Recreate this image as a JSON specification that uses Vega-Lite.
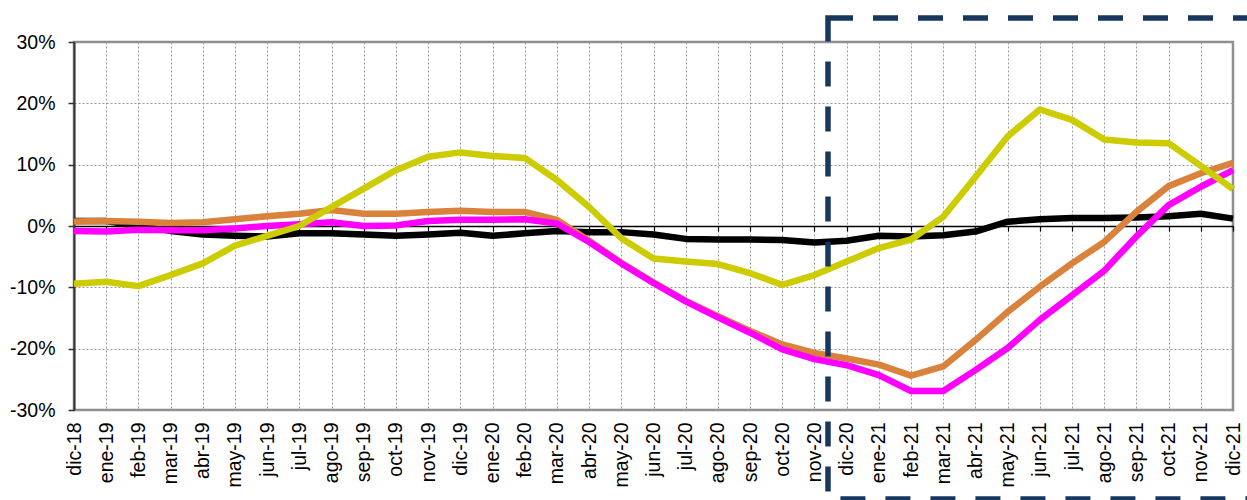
{
  "$schema": "https://vega.github.io/schema/vega-lite/v6.json",
  "autosize": "none",
  "width": 1159,
  "height": 368,
  "padding": {"left": 74, "top": 42, "right": 14, "bottom": 90},
  "background": "white",
  "config": {
    "view": {"stroke": "#8c8c8c", "strokeWidth": 2.5},
    "axis": {"labelFont": "Liberation Sans", "labelFontSize": 19.5, "labelColor": "#000000"}
  },
  "resolve": {"axis": {"x": "independent", "y": "independent"}},
  "layer": [
    {
      "data": {"values": [
        {"m":0,"s":"A","v":0.8},{"m":1,"s":"A","v":0.8},{"m":2,"s":"A","v":0.0},{"m":3,"s":"A","v":-0.8},{"m":4,"s":"A","v":-1.4},{"m":5,"s":"A","v":-1.6},{"m":6,"s":"A","v":-1.7},{"m":7,"s":"A","v":-1.2},{"m":8,"s":"A","v":-1.2},{"m":9,"s":"A","v":-1.4},{"m":10,"s":"A","v":-1.6},{"m":11,"s":"A","v":-1.4},{"m":12,"s":"A","v":-1.1},{"m":13,"s":"A","v":-1.6},{"m":14,"s":"A","v":-1.2},{"m":15,"s":"A","v":-0.8},{"m":16,"s":"A","v":-1.0},{"m":17,"s":"A","v":-1.0},{"m":18,"s":"A","v":-1.4},{"m":19,"s":"A","v":-2.1},{"m":20,"s":"A","v":-2.2},{"m":21,"s":"A","v":-2.2},{"m":22,"s":"A","v":-2.3},{"m":23,"s":"A","v":-2.7},{"m":24,"s":"A","v":-2.4},{"m":25,"s":"A","v":-1.6},{"m":26,"s":"A","v":-1.7},{"m":27,"s":"A","v":-1.5},{"m":28,"s":"A","v":-0.9},{"m":29,"s":"A","v":0.7},{"m":30,"s":"A","v":1.1},{"m":31,"s":"A","v":1.3},{"m":32,"s":"A","v":1.3},{"m":33,"s":"A","v":1.4},{"m":34,"s":"A","v":1.6},{"m":35,"s":"A","v":2.0},{"m":36,"s":"A","v":1.2},
        {"m":0,"s":"B","v":0.75},{"m":1,"s":"B","v":0.8},{"m":2,"s":"B","v":0.7},{"m":3,"s":"B","v":0.5},{"m":4,"s":"B","v":0.6},{"m":5,"s":"B","v":1.1},{"m":6,"s":"B","v":1.6},{"m":7,"s":"B","v":2.0},{"m":8,"s":"B","v":2.6},{"m":9,"s":"B","v":2.0},{"m":10,"s":"B","v":2.0},{"m":11,"s":"B","v":2.3},{"m":12,"s":"B","v":2.5},{"m":13,"s":"B","v":2.3},{"m":14,"s":"B","v":2.3},{"m":15,"s":"B","v":1.0},{"m":16,"s":"B","v":-2.4},{"m":17,"s":"B","v":-6.0},{"m":18,"s":"B","v":-9.2},{"m":19,"s":"B","v":-12.2},{"m":20,"s":"B","v":-14.7},{"m":21,"s":"B","v":-17.1},{"m":22,"s":"B","v":-19.3},{"m":23,"s":"B","v":-20.7},{"m":24,"s":"B","v":-21.6},{"m":25,"s":"B","v":-22.6},{"m":26,"s":"B","v":-24.4},{"m":27,"s":"B","v":-22.9},{"m":28,"s":"B","v":-18.6},{"m":29,"s":"B","v":-14.0},{"m":30,"s":"B","v":-9.9},{"m":31,"s":"B","v":-6.1},{"m":32,"s":"B","v":-2.6},{"m":33,"s":"B","v":2.3},{"m":34,"s":"B","v":6.5},{"m":35,"s":"B","v":8.6},{"m":36,"s":"B","v":10.3},
        {"m":0,"s":"C","v":-0.8},{"m":1,"s":"C","v":-0.9},{"m":2,"s":"C","v":-0.6},{"m":3,"s":"C","v":-0.7},{"m":4,"s":"C","v":-0.7},{"m":5,"s":"C","v":-0.4},{"m":6,"s":"C","v":0.0},{"m":7,"s":"C","v":0.3},{"m":8,"s":"C","v":0.6},{"m":9,"s":"C","v":0.0},{"m":10,"s":"C","v":0.1},{"m":11,"s":"C","v":0.8},{"m":12,"s":"C","v":1.0},{"m":13,"s":"C","v":1.0},{"m":14,"s":"C","v":1.1},{"m":15,"s":"C","v":0.4},{"m":16,"s":"C","v":-2.6},{"m":17,"s":"C","v":-6.1},{"m":18,"s":"C","v":-9.3},{"m":19,"s":"C","v":-12.3},{"m":20,"s":"C","v":-14.9},{"m":21,"s":"C","v":-17.4},{"m":22,"s":"C","v":-20.1},{"m":23,"s":"C","v":-21.7},{"m":24,"s":"C","v":-22.7},{"m":25,"s":"C","v":-24.3},{"m":26,"s":"C","v":-26.9},{"m":27,"s":"C","v":-26.9},{"m":28,"s":"C","v":-23.5},{"m":29,"s":"C","v":-19.9},{"m":30,"s":"C","v":-15.3},{"m":31,"s":"C","v":-11.3},{"m":32,"s":"C","v":-7.3},{"m":33,"s":"C","v":-1.7},{"m":34,"s":"C","v":3.4},{"m":35,"s":"C","v":6.4},{"m":36,"s":"C","v":9.1},
        {"m":0,"s":"D","v":-9.4},{"m":1,"s":"D","v":-9.1},{"m":2,"s":"D","v":-9.8},{"m":3,"s":"D","v":-8.0},{"m":4,"s":"D","v":-6.1},{"m":5,"s":"D","v":-3.2},{"m":6,"s":"D","v":-1.6},{"m":7,"s":"D","v":0.0},{"m":8,"s":"D","v":3.1},{"m":9,"s":"D","v":6.1},{"m":10,"s":"D","v":9.1},{"m":11,"s":"D","v":11.3},{"m":12,"s":"D","v":12.0},{"m":13,"s":"D","v":11.4},{"m":14,"s":"D","v":11.1},{"m":15,"s":"D","v":7.5},{"m":16,"s":"D","v":3.1},{"m":17,"s":"D","v":-2.0},{"m":18,"s":"D","v":-5.3},{"m":19,"s":"D","v":-5.8},{"m":20,"s":"D","v":-6.2},{"m":21,"s":"D","v":-7.7},{"m":22,"s":"D","v":-9.6},{"m":23,"s":"D","v":-8.0},{"m":24,"s":"D","v":-5.8},{"m":25,"s":"D","v":-3.6},{"m":26,"s":"D","v":-2.2},{"m":27,"s":"D","v":1.5},{"m":28,"s":"D","v":8.0},{"m":29,"s":"D","v":14.6},{"m":30,"s":"D","v":19.0},{"m":31,"s":"D","v":17.3},{"m":32,"s":"D","v":14.1},{"m":33,"s":"D","v":13.6},{"m":34,"s":"D","v":13.5},{"m":35,"s":"D","v":9.8},{"m":36,"s":"D","v":6.0}
      ]},
      "mark": {"type": "line", "strokeWidth": 6.5, "strokeCap": "butt", "strokeJoin": "round"},
      "encoding": {
        "x": {
          "field": "m", "type": "quantitative",
          "scale": {"domain": [0, 36], "nice": false, "zero": false},
          "axis": {
            "title": null,
            "values": [0,1,2,3,4,5,6,7,8,9,10,11,12,13,14,15,16,17,18,19,20,21,22,23,24,25,26,27,28,29,30,31,32,33,34,35,36],
            "labelExpr": "['dic-18','ene-19','feb-19','mar-19','abr-19','may-19','jun-19','jul-19','ago-19','sep-19','oct-19','nov-19','dic-19','ene-20','feb-20','mar-20','abr-20','may-20','jun-20','jul-20','ago-20','sep-20','oct-20','nov-20','dic-20','ene-21','feb-21','mar-21','abr-21','may-21','jun-21','jul-21','ago-21','sep-21','oct-21','nov-21','dic-21'][datum.value]",
            "labelAngle": -90,
            "labelPadding": 12,
            "labelFlush": false,
            "labelOverlap": false,
            "ticks": false,
            "domain": false,
            "grid": true,
            "gridColor": "#9a9a9a",
            "gridDash": [2, 2],
            "gridWidth": 1
          }
        },
        "y": {
          "field": "v", "type": "quantitative",
          "scale": {"domain": [-30, 30], "nice": false},
          "axis": {
            "title": null,
            "values": [-30, -20, -10, 0, 10, 20, 30],
            "labelExpr": "datum.value + '%'",
            "tickSize": 6,
            "tickColor": "#333333",
            "tickWidth": 1.5,
            "labelPadding": 13,
            "domain": true,
            "domainColor": "#333333",
            "domainWidth": 2,
            "grid": true,
            "gridColor": "#9a9a9a",
            "gridDash": [2, 2],
            "gridWidth": 1
          }
        },
        "color": {
          "field": "s", "type": "nominal", "legend": null,
          "scale": {"domain": ["A", "B", "C", "D"], "range": ["#000000", "#DA823B", "#FF00FF", "#CCCC00"]}
        }
      }
    },
    {
      "data": {"values": [{"x1": 23.42, "x2": 37.5, "y1": 33.9, "y2": -44.5}]},
      "mark": {"type": "rect", "fill": null, "fillOpacity": 0, "stroke": "#17375E", "strokeWidth": 5.5, "strokeDash": [25, 20], "clip": false},
      "encoding": {
        "x": {
          "field": "x1", "type": "quantitative",
          "scale": {"domain": [0, 36], "nice": false, "zero": false},
          "axis": {
            "orient": "bottom",
            "offset": -184,
            "title": null,
            "labels": false,
            "grid": false,
            "values": [0,1,2,3,4,5,6,7,8,9,10,11,12,13,14,15,16,17,18,19,20,21,22,23,24,25,26,27,28,29,30,31,32,33,34,35,36],
            "ticks": true,
            "tickSize": 5,
            "tickColor": "#000000",
            "tickWidth": 1.2,
            "domainColor": "#000000",
            "domainWidth": 1.5
          }
        },
        "x2": {"field": "x2"},
        "y": {"field": "y1", "type": "quantitative", "scale": {"domain": [-30, 30], "nice": false}, "axis": null},
        "y2": {"field": "y2"}
      }
    }
  ]
}
